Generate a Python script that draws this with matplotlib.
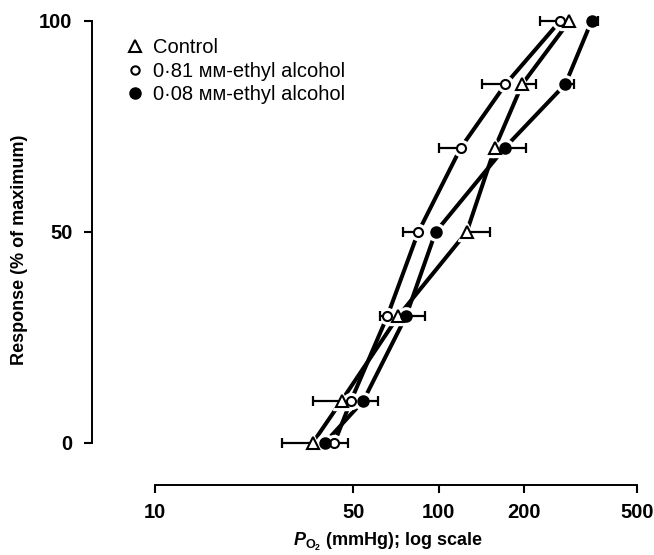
import numpy as np
import matplotlib
matplotlib.use("Agg")
import matplotlib.pyplot as plt
from matplotlib.lines import Line2D

plt.rcParams["font.family"] = ["Liberation Sans", "DejaVu Sans"]
plt.rcParams["mathtext.fontset"] = "custom"
plt.rcParams["mathtext.it"] = "Liberation Sans:italic:bold"
plt.rcParams["mathtext.rm"] = "Liberation Sans:bold"

# response levels (% of maximum)
response = [0, 10, 30, 50, 70, 85, 100]

# PO2 (mmHg) at each response level
po2_control = [36.0, 45.5, 72.0, 125.6, 158.0, 197.0, 289.0]
po2_081 = [42.9, 49.1, 65.9, 84.8, 119.8, 172.0, 268.0]
po2_008 = [39.7, 54.3, 76.7, 97.6, 171.3, 279.5, 346.0]

# end of the (one-sided) S.E. bar, nan where no bar is visible
bar_control = [28.0, 36.0, np.nan, 152.0, np.nan, 221.0, np.nan]
bar_081 = [48.0, np.nan, 62.0, 75.0, 100.0, 142.5, 227.5]
bar_008 = [np.nan, 61.0, 89.5, np.nan, 202.6, 300.0, 365.0]

labels = ["Control", "0\u00b781 \u1d0d\u1d0d-ethyl alcohol", "0\u00b708 \u1d0d\u1d0d-ethyl alcohol"]

fig = plt.figure(figsize=(6.54, 5.55), dpi=100)
ax = fig.add_axes([92 / 654, 1 - 485 / 555, (645 - 92) / 654, (485 - 10) / 555])

series = [
    (po2_control, bar_control, "^", "white", 8.5),
    (po2_081, bar_081, "o", "white", 6.5),
    (po2_008, bar_008, "o", "black", 7.5),
]

y = np.array(response, dtype=float)
for x, ends, mk, fc, ms in series:
    x = np.array(x)
    ends = np.array(ends)
    ax.plot(x, y, color="black", lw=2.9, zorder=2, solid_capstyle="butt")
    # white halo so the line stops short of the marker
    ax.plot(x, y, ls="none", marker=mk, ms=ms + 5, mfc="white", mec="white", zorder=3)
    has = ~np.isnan(ends)
    lo = np.where(has & (ends < x), x - np.nan_to_num(ends), 0)
    hi = np.where(has & (ends > x), np.nan_to_num(ends) - x, 0)
    ax.errorbar(x[has], y[has], xerr=[lo[has], hi[has]], fmt="none",
                ecolor="black", elinewidth=1.6, capsize=3.5, capthick=1.6, zorder=4)
    ax.plot(x, y, ls="none", marker=mk, ms=ms, mfc=fc, mec="black", mew=1.5, zorder=5)

ax.set_xscale("log")
ax.set_xlim(6.0, 533.6)
ax.set_ylim(-10, 102.6)

ax.set_xticks([10, 50, 100, 200, 500])
ax.set_xticklabels(["10", "50", "100", "200", "500"])
ax.xaxis.set_minor_locator(matplotlib.ticker.NullLocator())
ax.set_yticks([0, 50, 100])

for sp in ["top", "right"]:
    ax.spines[sp].set_visible(False)
ax.spines["left"].set_bounds(0, 100)
ax.spines["bottom"].set_bounds(10, 500)
ax.spines["left"].set_linewidth(1.4)
ax.spines["bottom"].set_linewidth(1.4)
ax.tick_params(direction="out", length=6, width=1.5, labelsize=14.5, pad=7)
ax.tick_params(axis="y", pad=8)
for t in ax.get_xticklabels() + ax.get_yticklabels():
    t.set_fontweight("bold")

ax.set_ylabel("Response (% of maximum)", fontsize=13, fontweight="bold")
ax.yaxis.set_label_coords((20 - 92) / 553, (485 - 250) / 475)
ax.set_xlabel(r"$P_{\mathrm{O_2}}$ (mmHg); log scale", fontsize=13, fontweight="bold")
ax.xaxis.set_label_coords((388 - 92) / 553, -(542 - 485) / 475)
ax.xaxis.label.set_verticalalignment("center")
ax.yaxis.label.set_verticalalignment("center")

handles = [
    Line2D([], [], ls="none", marker="^", ms=8, mfc="white", mec="black", mew=1.5),
    Line2D([], [], ls="none", marker="o", ms=6, mfc="white", mec="black", mew=1.5),
    Line2D([], [], ls="none", marker="o", ms=8, mfc="black", mec="black"),
]
ax.legend(handles, labels, loc="upper left", bbox_to_anchor=(125 / 654, 1 - 38 / 555),
          bbox_transform=fig.transFigure, frameon=False, fontsize=14.5, handlelength=1.0,
          handletextpad=0.4, labelspacing=0.23, borderpad=0, borderaxespad=0)

fig.savefig("out.png", dpi=100)
